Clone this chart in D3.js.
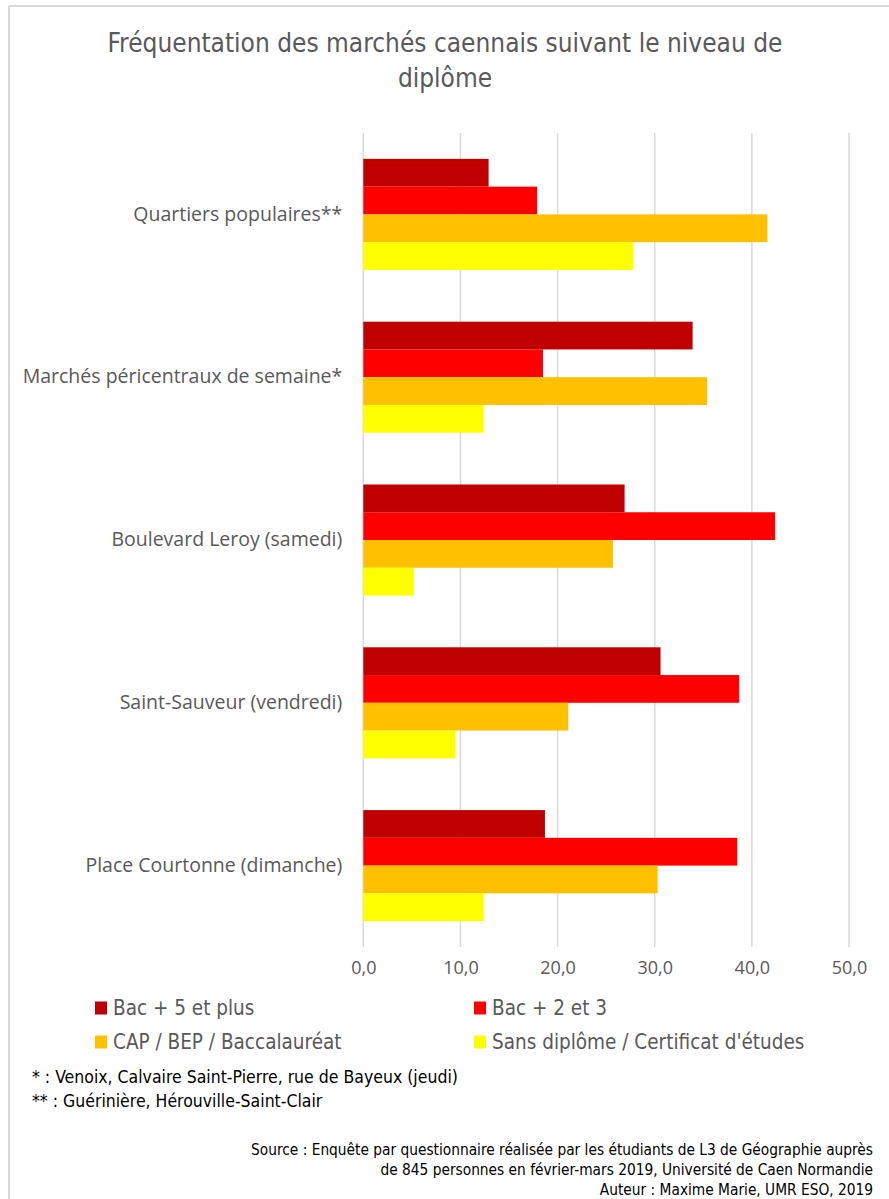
<!DOCTYPE html>
<html>
<head>
<meta charset="utf-8">
<script src="https://cdn.jsdelivr.net/npm/d3@7.9.0/dist/d3.min.js"></script>
<style>
  body { margin: 0; background: #fff; }
  svg { display: block; }
  .narrow { font-family: "DejaVu Sans Condensed", "Liberation Sans Narrow", "Open Sans", sans-serif; }
  .ui { font-family: "Open Sans", "Noto Sans", sans-serif; }
</style>
</head>
<body>
<div id="chart"></div>
<script>
const categories = [
  "Quartiers populaires**",
  "Marchés péricentraux de semaine*",
  "Boulevard Leroy (samedi)",
  "Saint-Sauveur (vendredi)",
  "Place Courtonne (dimanche)"
];
const seriesNames = [
  "Bac + 5 et plus",
  "Bac + 2 et 3",
  "CAP / BEP / Baccalauréat",
  "Sans diplôme / Certificat d'études"
];
const bac5 = [12.9, 33.9, 26.9, 30.6, 18.7];
const bac23 = [17.9, 18.5, 42.4, 38.7, 38.5];
const capBac = [41.6, 35.4, 25.7, 21.1, 30.3];
const sansDiplome = [27.8, 12.4, 5.2, 9.5, 12.4];
const seriesValues = [bac5, bac23, capBac, sansDiplome];
const colors = ["#C00000", "#FF0000", "#FFC000", "#FFFF00"];
const tickValues = [0, 10, 20, 30, 40, 50];
const titleLines = ["Fréquentation des marchés caennais suivant le niveau de", "diplôme"];
const notes = [
  "* : Venoix, Calvaire Saint-Pierre, rue de Bayeux (jeudi)",
  "** : Guérinière, Hérouville-Saint-Clair"
];
const sourceLines = [
  "Source : Enquête par questionnaire réalisée par les étudiants de L3 de Géographie auprès",
  "de 845 personnes en février-mars 2019, Université de Caen Normandie",
  "Auteur : Maxime Marie, UMR ESO, 2019"
];

const W = 889, H = 1199;
const plot = { left: 363.3, right: 849, top: 133, bottom: 947 };

const svg = d3.select("#chart").append("svg")
  .attr("width", W)
  .attr("height", H);

// frame (only top and left edges visible in the crop)
svg.append("line").attr("x1", 9).attr("x2", W).attr("y1", 6).attr("y2", 6)
  .attr("stroke", "#d9d9d9").attr("stroke-width", 2);
svg.append("line").attr("x1", 9).attr("x2", 9).attr("y1", 6).attr("y2", H)
  .attr("stroke", "#d9d9d9").attr("stroke-width", 2);

// title
svg.append("g").selectAll("text")
  .data(titleLines)
  .join("text")
    .attr("class", "narrow")
    .attr("x", 445)
    .attr("y", (d, i) => 52 + i * 35)
    .attr("text-anchor", "middle")
    .attr("font-size", 26)
    .attr("fill", "#595959")
    .text(d => d);

const x = d3.scaleLinear().domain([0, 50]).range([plot.left, plot.right]);
const y = d3.scaleBand().domain(categories).range([plot.top, plot.bottom])
  .paddingInner(0.318).paddingOuter(0.159);
const ySub = d3.scaleBand().domain(d3.range(seriesNames.length)).range([0, y.bandwidth()]);

// gridlines
svg.append("g").selectAll("line")
  .data(tickValues)
  .join("line")
    .attr("x1", d => x(d))
    .attr("x2", d => x(d))
    .attr("y1", plot.top)
    .attr("y2", plot.bottom)
    .attr("stroke", "#d9d9d9")
    .attr("stroke-width", 1.5);

// x axis labels
const fmt = d => d3.format(".1f")(d).replace(".", ",");
const xAxis = d3.axisBottom(x).tickValues(tickValues).tickFormat(fmt).tickSize(0).tickPadding(14);
const gx = svg.append("g").attr("transform", `translate(0,${plot.bottom})`).call(xAxis);
gx.select(".domain").remove();
gx.selectAll("text")
  .attr("class", "ui")
  .attr("font-size", 18)
  .attr("fill", "#595959");

// y axis labels
const yAxis = d3.axisLeft(y).tickSize(0).tickPadding(21);
const gy = svg.append("g").attr("transform", `translate(${plot.left},0)`).call(yAxis);
gy.select(".domain").remove();
gy.selectAll("text")
  .attr("class", "ui")
  .attr("font-size", 19.5)
  .attr("fill", "#595959");

// bars
const groups = svg.append("g").selectAll("g")
  .data(categories)
  .join("g")
    .attr("transform", d => `translate(0,${y(d)})`);

groups.selectAll("rect")
  .data((cat, ci) => seriesValues.map((vals, si) => ({ si, v: vals[ci] })))
  .join("rect")
    .attr("x", x(0))
    .attr("y", d => ySub(d.si))
    .attr("width", d => x(d.v) - x(0))
    .attr("height", ySub.bandwidth())
    .attr("fill", d => colors[d.si]);

// legend
const legendPos = [[95, 1008], [474, 1008], [95, 1042], [474, 1042]];
const legend = svg.append("g").selectAll("g")
  .data(seriesNames)
  .join("g")
    .attr("transform", (d, i) => `translate(${legendPos[i][0]},${legendPos[i][1]})`);
legend.append("rect")
  .attr("x", 0).attr("y", -6.5)
  .attr("width", 12).attr("height", 13)
  .attr("fill", (d, i) => colors[i]);
legend.append("text")
  .attr("class", "narrow")
  .attr("x", 18)
  .attr("y", 7)
  .attr("font-size", 20.5)
  .attr("fill", "#595959")
  .text(d => d);

// footnotes
svg.append("g").selectAll("text")
  .data(notes)
  .join("text")
    .attr("class", "narrow")
    .attr("x", 32)
    .attr("y", (d, i) => 1083 + i * 24)
    .attr("font-size", 17.5)
    .attr("fill", "#000")
    .text(d => d);

// source
svg.append("g").selectAll("text")
  .data(sourceLines)
  .join("text")
    .attr("class", "narrow")
    .attr("x", 873)
    .attr("y", (d, i) => 1155 + i * 20)
    .attr("text-anchor", "end")
    .attr("font-size", 15.3)
    .attr("fill", "#000")
    .text(d => d);
</script>
</body>
</html>
